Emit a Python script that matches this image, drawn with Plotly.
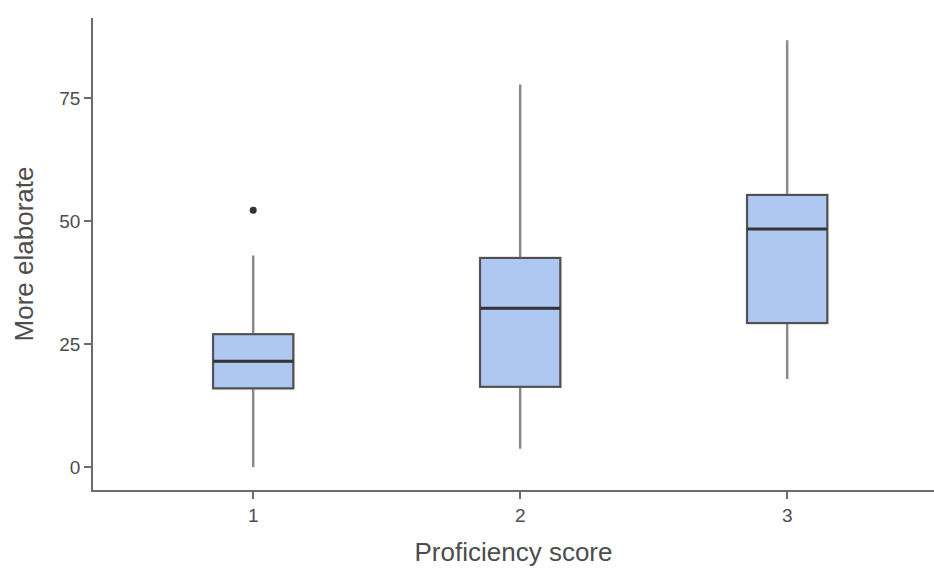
import plotly.graph_objects as go

# Data
categories = [1, 2, 3]
tick_labels = ["1", "2", "3"]
q1 = [16.0, 16.3, 29.3]
median = [21.5, 32.3, 48.4]
q3 = [27.0, 42.5, 55.3]
lower_whisker = [0.0, 3.7, 17.9]
upper_whisker = [43.0, 77.8, 86.8]
outlier_x = [1]
outlier_y = [52.2]

FILL = "#aec8f2"
fig = go.Figure()

# whiskers (lighter gray) + box fill
fig.add_trace(go.Box(
    x=categories, q1=q1, median=median, q3=q3,
    lowerfence=lower_whisker, upperfence=upper_whisker,
    width=0.3, whiskerwidth=0, fillcolor=FILL,
    line=dict(color="#8a8a8a", width=2.5),
    boxpoints=False, showlegend=False, hoverinfo="skip",
))
# box outline and median (darker)
fig.add_trace(go.Box(
    x=categories, q1=q1, median=median, q3=q3,
    lowerfence=q1, upperfence=q3,
    width=0.3, whiskerwidth=0, fillcolor=FILL,
    line=dict(color="#505050", width=2),
    boxpoints=False, showlegend=False,
))
# thicker median line
fig.add_trace(go.Box(
    x=categories, q1=median, median=median, q3=median,
    lowerfence=median, upperfence=median,
    width=0.3, whiskerwidth=0, fillcolor="rgba(0,0,0,0)",
    line=dict(color="#353535", width=3),
    boxpoints=False, showlegend=False, hoverinfo="skip",
))
# outlier
fig.add_trace(go.Scatter(
    x=outlier_x, y=outlier_y, mode="markers",
    marker=dict(color="#333333", size=7), showlegend=False,
))

fig.update_layout(
    width=934, height=570,
    margin=dict(l=93, r=0, t=18, b=80),
    paper_bgcolor="white", plot_bgcolor="white",
    font=dict(family="Liberation Sans, Arial, sans-serif", color="#4d4d4d"),
    boxmode="overlay",
)
fig.update_xaxes(
    range=[0.4, 3.55], tickvals=categories, ticktext=tick_labels,
    showgrid=False, zeroline=False, showline=True,
    linecolor="#6b6b6b", linewidth=1.5,
    ticks="outside", ticklen=7, tickcolor="#6b6b6b", tickwidth=1.5,
    tickfont=dict(size=19, color="#4d4d4d"),
    title=dict(text="Proficiency score", font=dict(size=26, color="#4d4d4d"), standoff=18),
)
fig.update_yaxes(
    range=[-4.67, 91.3], tickvals=[0, 25, 50, 75],
    showgrid=False, zeroline=False, showline=True,
    linecolor="#6b6b6b", linewidth=1.5,
    ticks="outside", ticklen=7, tickcolor="#6b6b6b", tickwidth=1.5,
    tickfont=dict(size=19, color="#4d4d4d"),
    title=dict(text="More elaborate", font=dict(size=26, color="#4d4d4d"), standoff=18),
)

fig.write_html("out.html")
